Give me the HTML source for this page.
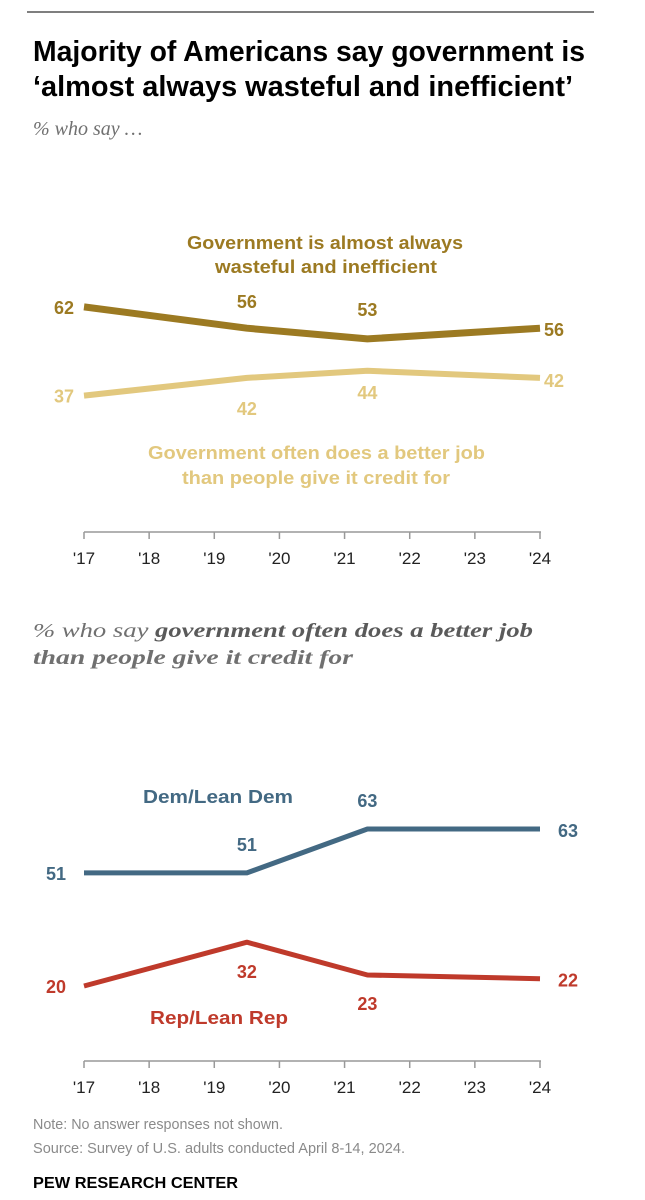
<!DOCTYPE html>
<html><head><meta charset="utf-8"><style>
html,body{margin:0;padding:0;background:#fff;}
svg{display:block;}
.t{font-family:"Liberation Sans Narrow","Liberation Sans",sans-serif;font-weight:bold;}
.lbl{font-family:"Liberation Sans",sans-serif;font-weight:bold;font-size:18px;}
.slbl{font-family:"Liberation Sans",sans-serif;font-weight:bold;font-size:18px;}
.tick{font-family:"Liberation Sans",sans-serif;font-size:17px;fill:#222;}
.sub{font-family:"Liberation Serif",serif;font-style:italic;font-size:20px;fill:#707070;}
.note{font-family:"Liberation Sans Narrow","Liberation Sans",sans-serif;font-size:15px;fill:#8a8a8a;}
</style></head><body>
<svg id="chart" width="645" height="1200" viewBox="0 0 645 1200" xmlns="http://www.w3.org/2000/svg">
<line x1="27" y1="12" x2="594" y2="12" stroke="#555" stroke-width="1.5"/>
<text class="t" x="33" y="61" font-size="29" fill="#000" textLength="552" lengthAdjust="spacingAndGlyphs">Majority of Americans say government is</text>
<text class="t" x="33" y="96" font-size="29" fill="#000" textLength="540" lengthAdjust="spacingAndGlyphs">‘almost always wasteful and inefficient’</text>
<text class="sub" x="33" y="135">% who say …</text>

<text class="slbl" fill="#9C7A22"><tspan x="187" y="249" textLength="276" lengthAdjust="spacingAndGlyphs">Government is almost always</tspan><tspan x="215" y="273" textLength="222" lengthAdjust="spacingAndGlyphs">wasteful and inefficient</tspan></text>
<text class="slbl" fill="#E2C87E"><tspan x="148" y="459" textLength="337" lengthAdjust="spacingAndGlyphs">Government often does a better job</tspan><tspan x="182" y="484" textLength="268" lengthAdjust="spacingAndGlyphs">than people give it credit for</tspan></text>

<text class="sub" x="33" y="637" textLength="500" lengthAdjust="spacingAndGlyphs">% who say <tspan font-weight="bold" fill="#5a5a5a">government often does a better job</tspan></text>
<text class="sub" x="33" y="664" font-weight="bold" fill="#5a5a5a" textLength="320" lengthAdjust="spacingAndGlyphs">than people give it credit for</text>

<text class="slbl" x="143" y="803" textLength="150" lengthAdjust="spacingAndGlyphs" fill="#436983">Dem/Lean Dem</text>
<text class="slbl" x="150" y="1024" textLength="138" lengthAdjust="spacingAndGlyphs" fill="#BF3A2B">Rep/Lean Rep</text>

<g id="g1"></g><g id="g2"></g>

<text class="note" x="33" y="1129" textLength="250" lengthAdjust="spacingAndGlyphs">Note: No answer responses not shown.</text>
<text class="note" x="33" y="1153" textLength="372" lengthAdjust="spacingAndGlyphs">Source: Survey of U.S. adults conducted April 8-14, 2024.</text>
<text class="t" x="33" y="1188" font-size="16" fill="#000" textLength="205" lengthAdjust="spacingAndGlyphs">PEW RESEARCH CENTER</text>
</svg>
<script>
const tickYears = [2017,2018,2019,2020,2021,2022,2023,2024];
const tickLabels = ["'17","'18","'19","'20","'21","'22","'23","'24"];
const surveyYears = [2017,2019.5,2021.35,2024];
const wasteful = [62,56,53,56];
const betterJob = [37,42,44,42];
const dem = [51,51,63,63];
const rep = [20,32,23,22];

const NS="http://www.w3.org/2000/svg";
function xs(y){return 84+(y-2017)*(540-84)/7;}
function mk(tag,attrs,parent,txt){const e=document.createElementNS(NS,tag);for(const k in attrs)e.setAttribute(k,attrs[k]);if(txt!=null)e.textContent=txt;parent.appendChild(e);return e;}

function axis(g,yAxis,name){
  const a=mk('line',{x1:84,y1:yAxis,x2:541,y2:yAxis,stroke:'#999','stroke-width':1.5},g);
  
  
  tickYears.forEach((yr,i)=>{
    const t=mk('line',{x1:xs(yr),y1:yAxis,x2:xs(yr),y2:yAxis+7,stroke:'#999','stroke-width':1.5},g);
    
    
    const l=mk('text',{x:xs(yr),y:yAxis+32,'text-anchor':'middle','class':'tick'},g,tickLabels[i]);
    
    
  });
}
function series(g,vals,ys,color,width,name,offs){
  const pts=vals.map((v,i)=>xs(surveyYears[i]).toFixed(1)+','+ys(v).toFixed(1)).join(' ');
  const p=mk('polyline',{points:pts,fill:'none',stroke:color,'stroke-width':width,'stroke-linejoin':'round'},g);
  
  
  vals.forEach((v,i)=>{
    const o=offs[i];
    const x=xs(surveyYears[i])+o[0], y=ys(v)+o[1];
    const anchor=i===0?'end':(i===vals.length-1?'start':'middle');
    const t=mk('text',{x:x,y:y,'text-anchor':anchor,'class':'lbl',fill:color},g,String(v));
    
    
  });
}
const y1=v=>527-3.55*v;
const y2=v=>1059-3.65*v;
const g1=document.getElementById('g1'), g2=document.getElementById('g2');
axis(g1,532,'chart1');
axis(g2,1061,'chart2');
series(g1,betterJob,y1,'#E2C87E',6,'better-job',[[-10,7],[0,37],[0,28],[4,9]]);
series(g1,wasteful,y1,'#9C7A22',7,'wasteful',[[-10,7],[0,-20],[0,-23],[4,8]]);
series(g2,dem,y2,'#436983',5,'dem',[[-18,7],[0,-22],[0,-22],[18,8]]);
series(g2,rep,y2,'#BF3A2B',5,'rep',[[-18,7],[0,36],[0,35],[18,8]]);
</script>
</body></html>
